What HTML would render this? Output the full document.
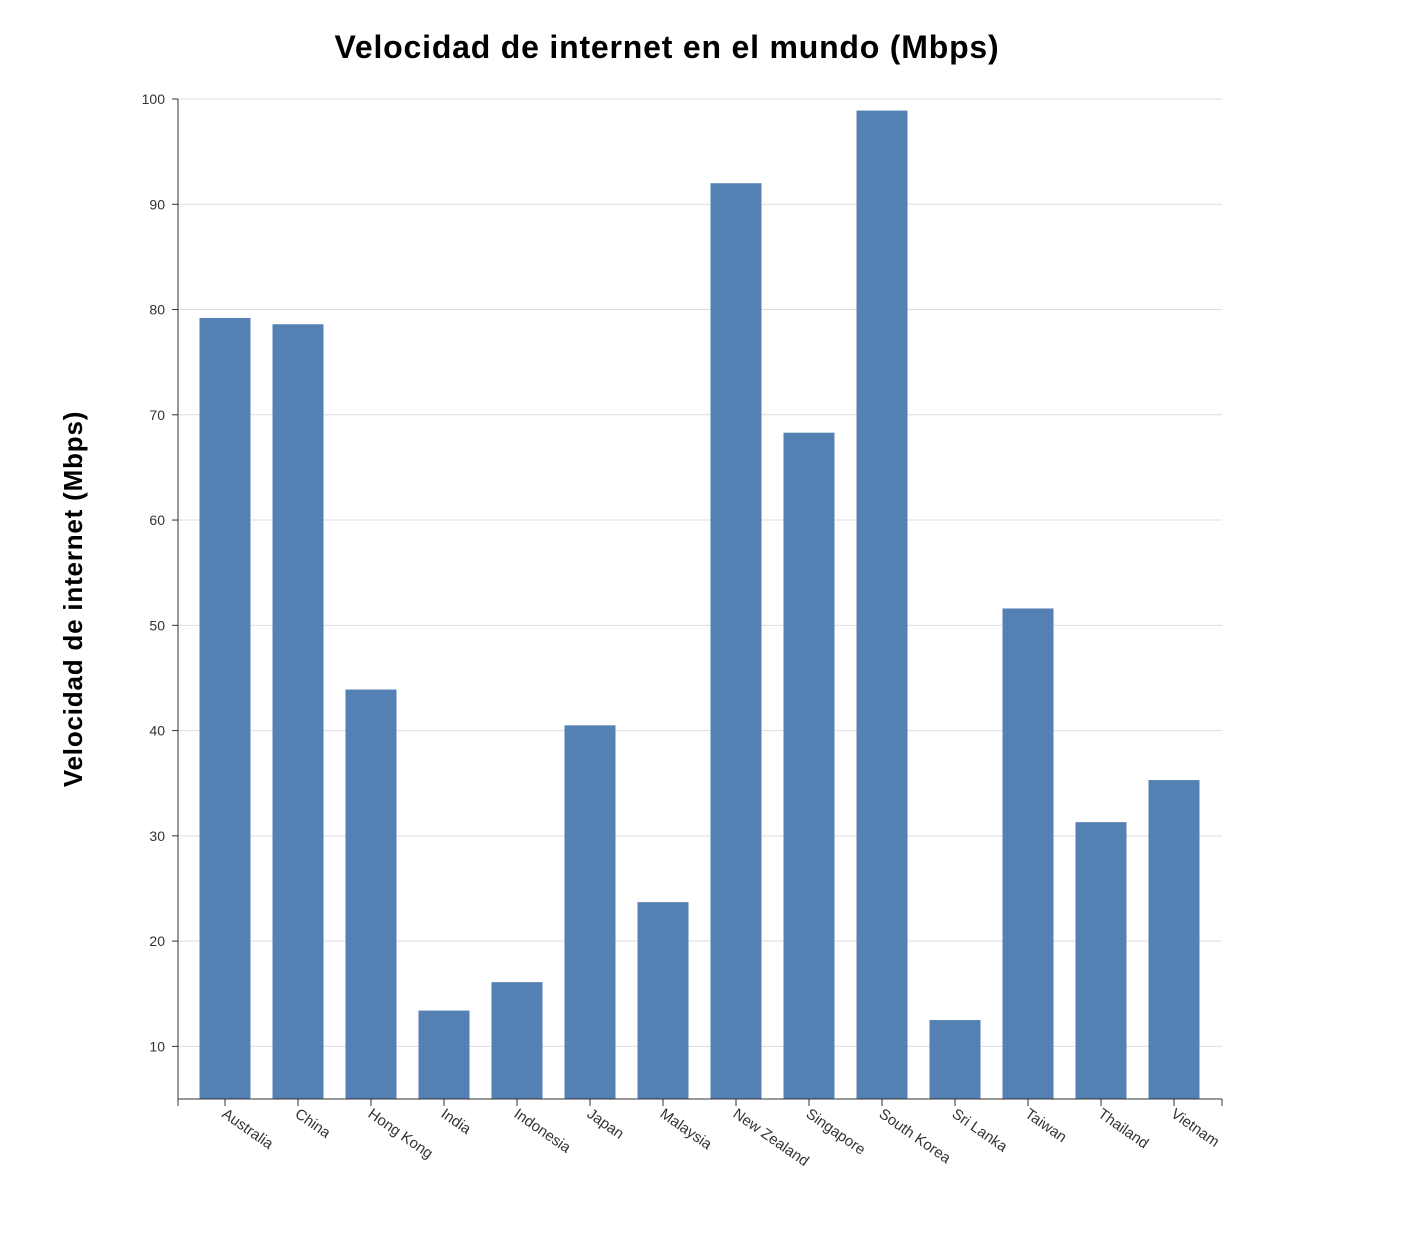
<!DOCTYPE html>
<html><head><meta charset="utf-8"><style>
html,body{margin:0;padding:0;background:#fff;}
svg{display:block;font-family:"Liberation Sans",sans-serif;}
</style></head><body>
<svg id="chart" width="1422" height="1234" xmlns="http://www.w3.org/2000/svg">
<text x="667" y="58" text-anchor="middle" font-size="32" font-weight="bold" letter-spacing="0.8" fill="#000">Velocidad de internet en el mundo (Mbps)</text>
<text transform="translate(82,599) rotate(-90)" text-anchor="middle" font-size="26" font-weight="bold" letter-spacing="0.8" fill="#000">Velocidad de internet (Mbps)</text>
<g id="grid"></g><g id="bars"></g><g id="axes"></g>
</svg>
<script>
const categories=["Australia","China","Hong Kong","India","Indonesia","Japan","Malaysia","New Zealand","Singapore","South Korea","Sri Lanka","Taiwan","Thailand","Vietnam"];
const values=[79.2,78.6,43.9,13.4,16.1,40.5,23.7,92.0,68.3,98.9,12.5,51.6,31.3,35.3];
const yTicks=[10,20,30,40,50,60,70,80,90,100];
const NS="http://www.w3.org/2000/svg";
const yMin=5,yMax=100,plotTop=99,plotBottom=1099;
const yScale=v=>plotBottom-(v-yMin)/(yMax-yMin)*(plotBottom-plotTop);
const step=73,x0=188.5,bw=51;
const xc=i=>x0+step*i+step/2;
function mk(t,a,p){const e=document.createElementNS(NS,t);for(const k in a)e.setAttribute(k,a[k]);p.appendChild(e);return e;}
const grid=document.getElementById('grid'),bars=document.getElementById('bars'),axes=document.getElementById('axes');
yTicks.forEach(t=>{
 const l=mk('line',{x1:178,x2:1222,y1:yScale(t),y2:yScale(t),stroke:'#ddd','stroke-width':1},grid);
 
 
 const tk=mk('line',{x1:172,x2:178,y1:yScale(t),y2:yScale(t),stroke:'#333'},axes);
 
 
 const tx=mk('text',{x:165,y:yScale(t)+5,'text-anchor':'end','font-size':14,fill:'#333'},axes);
 tx.textContent=t;
 
 
});
categories.forEach((c,i)=>{
 const r=mk('rect',{x:xc(i)-bw/2,y:yScale(values[i]),width:bw,height:plotBottom-yScale(values[i]),fill:'#5580b3'},bars);
 
 
 const tk=mk('line',{x1:xc(i),x2:xc(i),y1:plotBottom,y2:plotBottom+7,stroke:'#333'},axes);
 
 
 const tx=mk('text',{transform:`translate(${xc(i)-4},${plotBottom+17}) rotate(35)`,'font-size':15,fill:'#333'},axes);
 tx.textContent=c;
 
 
});
const ya=mk('line',{x1:178,x2:178,y1:plotTop,y2:plotBottom,stroke:'#333'},axes);


const xa=mk('line',{x1:178,x2:1222,y1:plotBottom,y2:plotBottom,stroke:'#333'},axes);


[178,1222].forEach(xx=>{const e=mk('line',{x1:xx,x2:xx,y1:plotBottom,y2:plotBottom+7,stroke:'#333'},axes);
 
 });
</script>
</body></html>
